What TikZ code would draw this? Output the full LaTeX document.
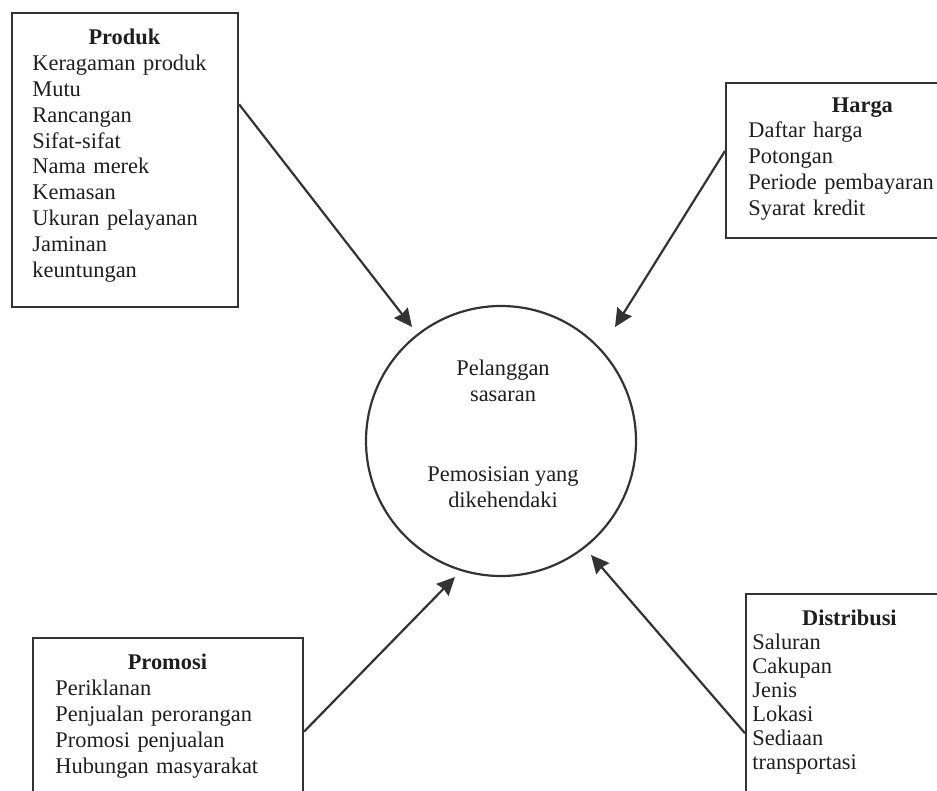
\documentclass[tikz,border=0pt]{standalone}
\usepackage{fontspec}
\setmainfont{Liberation Serif}
\usetikzlibrary{arrows.meta}

\definecolor{garis}{HTML}{333333}
\definecolor{tulisan}{HTML}{1E1E1E}

\tikzset{
  kotak/.style={draw=garis, line width=1.1pt, anchor=north west, inner sep=0pt},
  isi/.style={anchor=north west, inner sep=0pt, align=left, text=tulisan,
              font=\fontsize{11.2}{12.9}\selectfont},
  panah/.style={draw=garis, line width=1.1pt,
                -{Stealth[length=9pt, width=8.5pt, inset=0.8pt]}}
}

\begin{document}
\begin{tikzpicture}[x=0.5pt, y=-0.5pt]
        \useasboundingbox (0,0) rectangle (937,791);
        \clip (0,0) rectangle (937,791);

        % kotak bauran pemasaran
        \node[kotak, minimum width=113pt, minimum height=147pt] (produk) at (11,12) {};
        \node[kotak, minimum width=137pt, minimum height=77.5pt] (harga) at (725,82) {};
        \node[kotak, minimum width=135pt, minimum height=81.5pt] (promosi) at (32,637) {};
        \node[kotak, minimum width=104pt, minimum height=105pt] (distribusi) at (745,593) {};

        % isi kotak
        \node[isi, text width=92pt] (produkIsi) at (32,29)
            {\makebox[92pt]{\textbf{Produk}}\\Keragaman produk\\Mutu\\Rancangan\\Sifat-sifat\\
             Nama merek\\Kemasan\\Ukuran pelayanan\\Jaminan\\keuntungan};
        \node[isi, text width=114pt] (hargaIsi) at (748,97)
            {\makebox[114pt]{\textbf{Harga}}\\Daftar harga\\Potongan\\Periode pembayaran\\Syarat kredit};
        \node[isi, text width=112pt] (promosiIsi) at (55,654)
            {\makebox[112pt]{\textbf{Promosi}}\\Periklanan\\Penjualan perorangan\\Promosi penjualan\\
             Hubungan masyarakat};
        \node[isi, text width=97pt, font=\fontsize{11.2}{12}\selectfont] (distribusiIsi) at (752,610)
            {\makebox[97pt]{\textbf{Distribusi}}\\Saluran\\Cakupan\\Jenis\\Lokasi\\Sediaan\\transportasi};

        % lingkaran pelanggan
        \node[draw=garis, line width=1.1pt, circle, minimum size=135pt, inner sep=0pt] (pelanggan) at (501,441) {};
        \node[isi, anchor=north, align=center] (sasaran) at (503,360)
            {Pelanggan\\sasaran\\[27pt]Pemosisian yang\\dikehendaki};

        % panah ke pelanggan
        \coordinate (ujungProduk) at (412,327);
        \coordinate (ujungHarga) at (615,327);
        \coordinate (ujungPromosi) at (455,577);
        \coordinate (ujungDistribusi) at (591,555);
        \foreach \asal/\ujung in {produk.26.4/ujungProduk, harga.176/ujungHarga,
                                  promosi.-5.7/ujungPromosi, distribusi.198.6/ujungDistribusi}
        {
            \draw[panah] (\asal) -- (\ujung);
        }
\end{tikzpicture}
\end{document}
